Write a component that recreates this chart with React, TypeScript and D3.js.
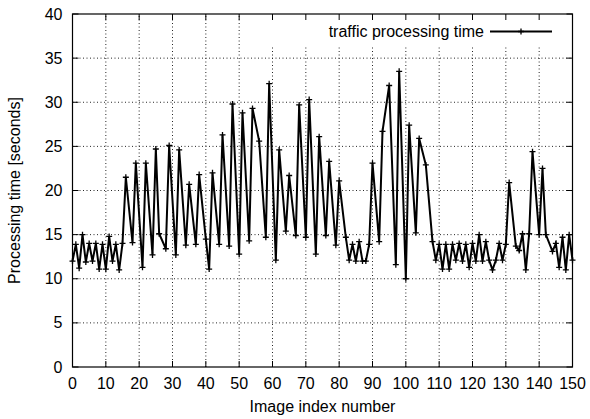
import React from "react";
import * as d3 from "d3";

// image index / processing time
const imageIndex = [
  0, 1, 2, 3, 4, 5, 6, 7, 8, 9, 10, 11, 12, 13, 14, 15, 16, 18, 19, 21, 22, 24,
  25, 26, 28, 29, 31, 32, 34, 35, 37, 38, 40, 41, 42, 44, 45, 47, 48, 50, 51,
  53, 54, 56, 58, 59, 61, 62, 64, 65, 67, 68, 70, 71, 73, 74, 76, 77, 79, 80,
  82, 83, 84, 85, 86, 87, 88, 89, 90, 92, 93, 95, 97, 98, 100, 101, 103, 104,
  106, 108, 109, 110, 111, 112, 113, 114, 115, 116, 117, 118, 119, 120, 121,
  122, 123, 124, 125, 126, 127, 128, 129, 130, 131, 133, 134, 135, 136, 137,
  138, 140, 141, 142, 144, 145, 146, 147, 148, 149, 150,
];
const processingTime = [
  12.0, 13.9, 11.2, 15.0, 11.9, 14.0, 12.0, 14.0, 11.1, 13.9, 11.1, 14.8, 12.0,
  13.9, 11.0, 14.0, 21.5, 14.1, 23.1, 11.3, 23.1, 12.7, 24.7, 15.1, 13.4, 25.1,
  12.7, 24.6, 13.8, 20.7, 13.9, 21.8, 14.5, 11.1, 22.0, 13.9, 26.3, 13.7, 29.8,
  12.8, 28.8, 14.3, 29.3, 25.6, 14.7, 32.1, 12.1, 24.6, 15.4, 21.7, 14.9, 29.7,
  14.7, 30.3, 12.8, 26.1, 14.9, 23.3, 13.8, 21.1, 14.7, 12.1, 13.9, 12.0, 14.2,
  12.0, 12.0, 13.9, 23.1, 14.2, 26.7, 31.9, 11.6, 33.5, 10.0, 27.4, 15.2, 25.9,
  22.9, 14.2, 12.1, 13.9, 11.1, 13.9, 11.1, 13.9, 12.1, 14.0, 12.0, 13.9, 11.3,
  14.0, 12.0, 15.0, 12.0, 14.2, 12.1, 11.0, 12.1, 14.0, 12.1, 13.9, 20.9, 13.7,
  13.2, 15.1, 11.0, 15.1, 24.4, 15.0, 22.5, 15.0, 13.1, 14.0, 11.3, 14.7, 11.0,
  15.0, 12.1,
];
const xTickValues = [0, 10, 20, 30, 40, 50, 60, 70, 80, 90, 100, 110, 120, 130, 140, 150];
const yTickValues = [0, 5, 10, 15, 20, 25, 30, 35, 40];
const seriesName = "traffic processing time";

const width = 590;
const height = 419;
const margin = { top: 14, right: 17.5, bottom: 52, left: 72.5 };
const font = "'Liberation Sans', Arial, Helvetica, sans-serif";
const fontSize = 16;

const Cross = ({ cx, cy, r = 3 }: { cx: number; cy: number; r?: number }) => (
  <path
    d={`M${cx - r},${cy}H${cx + r}M${cx},${cy - r}V${cy + r}`}
    stroke="#000"
    strokeWidth={1.3}
  />
);

export default function App() {
  const x = d3
    .scaleLinear()
    .domain([0, 150])
    .range([margin.left, width - margin.right]);
  const y = d3
    .scaleLinear()
    .domain([0, 40])
    .range([height - margin.bottom, margin.top]);

  const points = imageIndex.map((d, i) => [d, processingTime[i]] as [number, number]);
  const line = d3
    .line<[number, number]>()
    .x((d) => x(d[0]))
    .y((d) => y(d[1]));

  const [x0, x1] = x.range();
  const [y0, y1] = y.range();
  const tick = 6;

  // key area, grid is left out behind it
  const key = { x: 256, y: y1, w: x1 - 256, h: 32 };
  const keyLineY = 31.5;

  return (
    <svg
      width={width}
      height={height}
      style={{ position: "absolute", left: 0, top: 0, background: "#fff" }}
    >
      {/* grid */}
      <g stroke="#000" strokeWidth={1} strokeDasharray="1,2.5" opacity={0.85}>
        {xTickValues.slice(1, -1).map((t) => (
          <line key={"gx" + t} x1={x(t)} x2={x(t)} y1={y0} y2={y1} />
        ))}
        {yTickValues.slice(1, -1).map((t) => (
          <line key={"gy" + t} x1={x0} x2={x1} y1={y(t)} y2={y(t)} />
        ))}
      </g>
      <rect x={key.x} y={key.y} width={key.w} height={key.h} fill="#fff" />

      {/* ticks, mirrored on all sides */}
      <g stroke="#000" strokeWidth={1}>
        {xTickValues.map((t) => (
          <g key={"tx" + t}>
            <line x1={x(t)} x2={x(t)} y1={y0} y2={y0 - tick} />
            <line x1={x(t)} x2={x(t)} y1={y1} y2={y1 + tick} />
          </g>
        ))}
        {yTickValues.map((t) => (
          <g key={"ty" + t}>
            <line x1={x0} x2={x0 + tick} y1={y(t)} y2={y(t)} />
            <line x1={x1} x2={x1 - tick} y1={y(t)} y2={y(t)} />
          </g>
        ))}
      </g>

      {/* tick labels */}
      <g fontFamily={font} fontSize={fontSize} fill="#000">
        {xTickValues.map((t) => (
          <text key={"lx" + t} x={x(t)} y={y0 + 22} textAnchor="middle">
            {t}
          </text>
        ))}
        {yTickValues.map((t) => (
          <text key={"ly" + t} x={x0 - 10} y={y(t) + 5.5} textAnchor="end">
            {t}
          </text>
        ))}
      </g>

      {/* axis titles */}
      <text
        x={(x0 + x1) / 2}
        y={height - 7}
        textAnchor="middle"
        fontFamily={font}
        fontSize={fontSize}
      >
        Image index number
      </text>
      <text
        transform={`translate(20,${(y0 + y1) / 2}) rotate(-90)`}
        textAnchor="middle"
        fontFamily={font}
        fontSize={fontSize}
      >
        Processing time [seconds]
      </text>

      {/* series */}
      <path d={line(points) || ""} fill="none" stroke="#000" strokeWidth={2} />
      {points.map((p, i) => (
        <Cross key={i} cx={x(p[0])} cy={y(p[1])} />
      ))}

      {/* key */}
      <text
        x={484}
        y={keyLineY + 5.5}
        textAnchor="end"
        fontFamily={font}
        fontSize={fontSize}
      >
        {seriesName}
      </text>
      <line x1={490} x2={552} y1={keyLineY} y2={keyLineY} stroke="#000" strokeWidth={2} />
      <Cross cx={521} cy={keyLineY} />

      {/* frame */}
      <rect
        x={x0}
        y={y1}
        width={x1 - x0}
        height={y0 - y1}
        fill="none"
        stroke="#000"
        strokeWidth={1.2}
      />
    </svg>
  );
}
